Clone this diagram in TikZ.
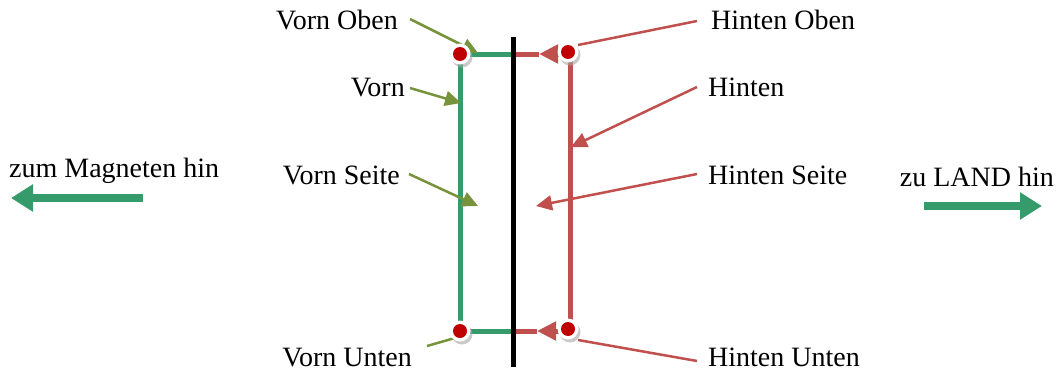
\documentclass[tikz,border=0pt]{standalone}
\usepackage{fontspec}
\setmainfont{Liberation Serif}
\usetikzlibrary{arrows.meta}
\definecolor{bargreen}{RGB}{54,155,106}
\definecolor{barred}{RGB}{192,80,77}
\definecolor{olive}{RGB}{119,147,60}
\definecolor{dotred}{RGB}{192,0,0}
\tikzset{
  lbl/.style={inner sep=0pt, font=\fontsize{28}{32}\selectfont},
  frontbar/.style={draw=bargreen, line width=5pt},
  backbar/.style={draw=barred, line width=5pt},
  wall/.style={draw=black, line width=5pt},
  vptr/.style={draw=olive, line width=2.5pt, -{Triangle[length=16pt,width=15pt]}},
  vptrn/.style={draw=olive, line width=2.5pt},
  hptr/.style={draw=barred, line width=2.5pt, -{Triangle[length=16pt,width=15pt]}},
  hptrn/.style={draw=barred, line width=2.5pt},
  bigarrow/.style={draw=bargreen, line width=8pt, -{Triangle[length=22pt,width=26pt]}},
  ringshadow/.style={fill=black!35, opacity=0.6},
  ring/.style={fill=white},
  dot/.style={fill=dotred}
}
\begin{document}
\begin{tikzpicture}[x=1pt,y=-1pt]
\useasboundingbox (0,0) rectangle (1058,372);
% points
\coordinate (TL) at (460,54);
\coordinate (TR) at (568,52);
\coordinate (BL) at (460,331);
\coordinate (BR) at (568,329);
\coordinate (TRv) at (570,55);
\coordinate (BRv) at (570,329);
\coordinate (WT) at (513,37);
\coordinate (WB) at (513,367);
\coordinate (TLw) at (513,54);
\coordinate (BLw) at (513,331);
\coordinate (TRw) at (513,54);
\coordinate (BRw) at (513,331);
\coordinate (TRtip) at (539,54);
\coordinate (BRtip) at (537,331);
\coordinate (TRs) at (568,54);
\coordinate (BRs) at (568,331);
% bars
\draw[frontbar] (TL) -- (BL);
\draw[frontbar] (TL) -- (TLw);
\draw[frontbar] (BL) -- (BLw);
\draw[backbar] (TRv) -- (BRv);
\draw[backbar] (TRw) -- (TRtip);
\draw[backbar] (BRw) -- (BRtip);
\draw[backbar, -{Triangle[length=19pt,width=18pt]}] (TRs) -- (TRtip);
\draw[backbar, -{Triangle[length=19pt,width=18pt]}] (BRs) -- (BRtip);
\draw[wall] (WT) -- (WB);
% labels
\node[lbl, anchor=base east] (vo) at (398,29) {Vorn Oben};
\node[lbl, anchor=base east] (v) at (405,96) {Vorn};
\node[lbl, anchor=base east] (vs) at (400,184) {Vorn Seite};
\node[lbl, anchor=base east] (vu) at (412,366) {Vorn Unten};
\node[lbl, anchor=base west] (ho) at (711,29) {Hinten Oben};
\node[lbl, anchor=base west] (h) at (708,96) {Hinten};
\node[lbl, anchor=base west] (hs) at (708,184) {Hinten Seite};
\node[lbl, anchor=base west] (hu) at (708,366) {Hinten Unten};
\node[lbl, anchor=base west] (mag) at (9,177) {zum Magneten hin};
\node[lbl, anchor=base east] (land) at (1054,186) {zu LAND hin};
% pointer targets
\coordinate (voT) at (478,53);
\coordinate (vT) at (461,103);
\coordinate (vsT) at (478,206);
\coordinate (vuT) at (455,338);
\coordinate (hoT) at (578,45);
\coordinate (hT) at (571,147);
\coordinate (hsT) at (536,206);
\coordinate (huT) at (578,340);
% pointer sources
\coordinate (voS) at (410,19);
\coordinate (vS) at (410,88);
\coordinate (vsS) at (409,174);
\coordinate (vuS) at (427,346);
\coordinate (hoS) at (697,21);
\coordinate (hS) at (697,87);
\coordinate (hsS) at (697,174);
\coordinate (huS) at (697,361);
% pointers
\draw[vptr] (voS) -- (voT);
\draw[vptr] (vS) -- (vT);
\draw[vptr] (vsS) -- (vsT);
\draw[vptrn] (vuS) -- (vuT);
\draw[hptrn] (hoS) -- (hoT);
\draw[hptr] (hS) -- (hT);
\draw[hptr] (hsS) -- (hsT);
\draw[hptrn] (huS) -- (huT);
% big arrows
\coordinate (magS) at (143,198);
\coordinate (magT) at (11,198);
\coordinate (landS) at (924,206);
\coordinate (landT) at (1042,206);
\draw[bigarrow] (magS) -- (magT);
\draw[bigarrow] (landS) -- (landT);
% dots
\foreach \p in {TL,TR,BL,BR}{
  \fill[ringshadow] ([shift={(2,3)}]\p) circle (10.5pt);
  \fill[ring] (\p) circle (10.5pt);
  \fill[dot] (\p) circle (7pt);
}
\end{tikzpicture}
\end{document}
